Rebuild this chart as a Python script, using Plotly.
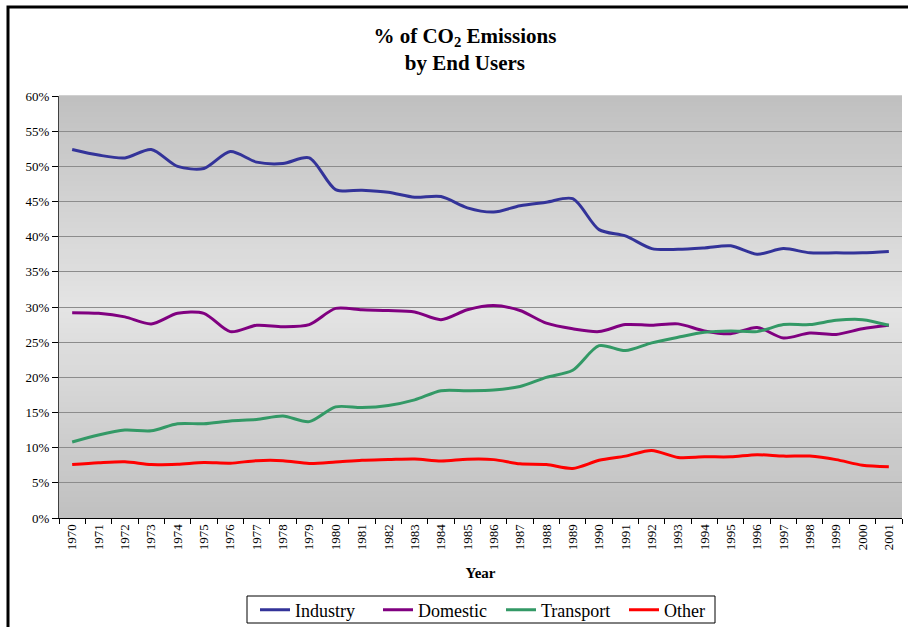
import plotly.graph_objects as go

# Share of CO2 emissions by end user, 1970-2001 (percent)
years = [str(y) for y in range(1970, 2002)]

industry = [52.4, 51.6, 51.2, 52.4, 50.0, 49.7, 52.1, 50.6, 50.4, 51.2,
            46.7, 46.6, 46.3, 45.6, 45.7, 44.1, 43.5, 44.4, 44.9, 45.4,
            41.0, 40.1, 38.3, 38.2, 38.4, 38.7, 37.5, 38.3, 37.7, 37.7,
            37.7, 37.9]

domestic = [29.2, 29.1, 28.6, 27.6, 29.1, 29.1, 26.5, 27.4, 27.2, 27.5,
            29.8, 29.6, 29.5, 29.3, 28.2, 29.6, 30.2, 29.5, 27.7, 26.9,
            26.5, 27.5, 27.4, 27.6, 26.6, 26.2, 27.1, 25.6, 26.3, 26.1,
            26.9, 27.4]

transport = [10.8, 11.8, 12.5, 12.4, 13.4, 13.4, 13.8, 14.0, 14.5, 13.7,
             15.8, 15.7, 16.0, 16.8, 18.1, 18.1, 18.2, 18.7, 20.0, 21.0,
             24.5, 23.8, 24.9, 25.7, 26.4, 26.6, 26.5, 27.5, 27.5, 28.1,
             28.2, 27.4]

other = [7.6, 7.85, 8.0, 7.6, 7.65, 7.9, 7.8, 8.15, 8.15, 7.75,
         7.95, 8.2, 8.3, 8.4, 8.1, 8.35, 8.3, 7.7, 7.6, 7.05,
         8.2, 8.8, 9.6, 8.6, 8.7, 8.7, 9.0, 8.8, 8.8, 8.3,
         7.5, 7.3]

y_ticks = list(range(0, 61, 5))
y_tick_labels = [f"{v}%" for v in y_ticks]

series = [
    ("Industry", industry, "#333399"),
    ("Domestic", domestic, "#800080"),
    ("Transport", transport, "#339966"),
    ("Other", other, "#FF0000"),
]

serif = "Times New Roman"

# plot area in pixels (used to place the frame and legend box)
PL, PR, PT, PB = 59, 902, 96, 518


def px_x(p):
    return (p - PL) / (PR - PL)


def px_y(p):
    return (PB - p) / (PB - PT)


fig = go.Figure()
for name, vals, color in series:
    fig.add_trace(go.Scatter(
        x=years, y=vals, name=name, mode="lines",
        line=dict(color=color, width=3, shape="spline", smoothing=0.8),
    ))

# vertical grey gradient for the plot area: darker at top and bottom, lighter in the middle
shapes = []
n_bands = 80
for i in range(n_bands):
    t = (i + 0.5) / n_bands
    g = round(192 + (228 - 192) * (1 - abs(2 * t - 1)))
    shapes.append(dict(
        type="rect", xref="paper", yref="paper", layer="below",
        x0=0, x1=1, y0=i / n_bands, y1=(i + 1) / n_bands + 0.002,
        line=dict(width=0), fillcolor=f"rgb({g},{g},{g})",
    ))

# outer chart frame
shapes.append(dict(
    type="rect", xref="paper", yref="paper", layer="above",
    x0=px_x(8), x1=1.2, y0=-0.6, y1=px_y(7),
    line=dict(color="black", width=3), fillcolor="rgba(0,0,0,0)",
))

# legend frame
shapes.append(dict(
    type="rect", xref="paper", yref="paper", layer="above",
    x0=px_x(247), x1=px_x(715), y0=px_y(623), y1=px_y(596),
    line=dict(color="black", width=1), fillcolor="rgba(0,0,0,0)",
))

last = domestic[-1]
fig.add_annotation(
    x=years[-1], y=last, text=f"{round(last)}%", showarrow=False,
    xanchor="center", yanchor="bottom", yshift=1,
    font=dict(family="Arial", size=13, color="black"),
)

fig.update_layout(
    width=908, height=627,
    margin=dict(l=PL, r=908 - PR, t=PT, b=627 - PB, autoexpand=False),
    paper_bgcolor="white",
    plot_bgcolor="#e0e0e0",
    shapes=shapes,
    title=dict(
        text="<b>% of CO<sub>2</sub> Emissions<br>by End Users</b>",
        x=0.512, xref="container", xanchor="center",
        y=0.932, yref="container", yanchor="middle",
        font=dict(family=serif, size=21, color="black"),
    ),
    font=dict(family=serif, size=12, color="black"),
    legend=dict(
        orientation="h", x=px_x(255), xanchor="left",
        y=px_y(610), yanchor="middle",
        borderwidth=0, bgcolor="rgba(0,0,0,0)",
        font=dict(family=serif, size=18, color="black"),
        entrywidth=78, itemwidth=30,
    ),
    showlegend=True,
)

fig.update_xaxes(
    type="category", tickson="boundaries", ticks="outside", ticklen=5,
    tickcolor="black", tickangle=-90, showgrid=False, automargin=False,
    showline=True, linecolor="black", linewidth=1,
    tickfont=dict(family=serif, size=13, color="black"),
    title=dict(text="<b>Year</b>", standoff=18,
               font=dict(family=serif, size=15, color="black")),
    range=[-0.5, len(years) - 0.5],
)

fig.update_yaxes(
    range=[0, 60], tickvals=y_ticks, ticktext=y_tick_labels,
    ticks="outside", ticklen=6, tickcolor="black", automargin=False,
    showgrid=True, gridcolor="#8c8c8c", gridwidth=1, zeroline=False,
    showline=True, linecolor="#404040", linewidth=1,
    tickfont=dict(family=serif, size=13, color="black"),
)

fig.write_html("out.html")
